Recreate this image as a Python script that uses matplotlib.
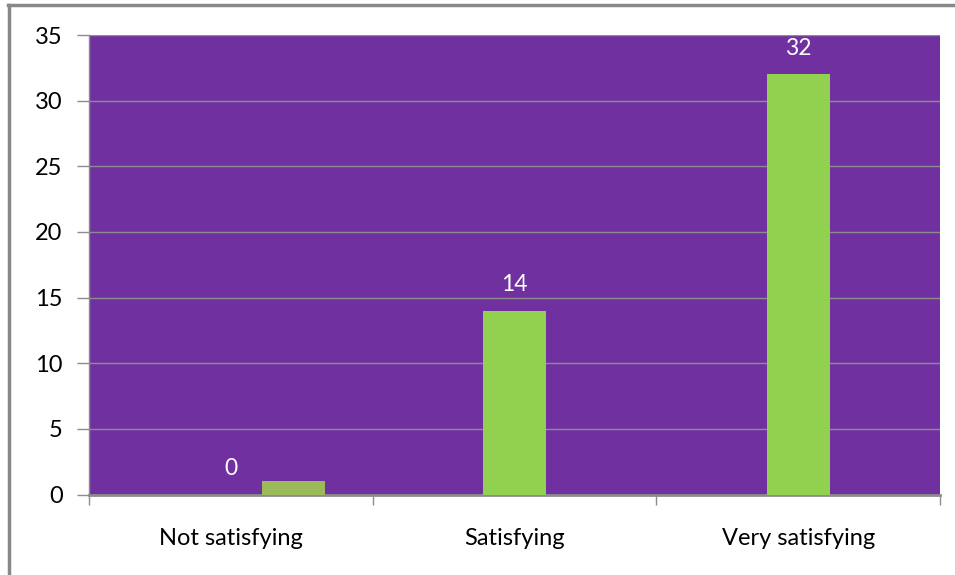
import matplotlib
matplotlib.use("Agg")
import matplotlib.pyplot as plt
from matplotlib.lines import Line2D

categories = ["Not satisfying", "Satisfying", "Very satisfying"]
values = [0, 14, 32]
extra_values = [1, 0, 0]
yticks = [0, 5, 10, 15, 20, 25, 30, 35]

plt.rcParams['font.family'] = ['Lato', 'DejaVu Sans']

fig = plt.figure(figsize=(9.55, 5.75), dpi=100)
ax = fig.add_axes([89/955, 1 - 494.5/575, (940 - 89)/955, (494.5 - 35)/575])
ax.set_facecolor("#7030A0")

bw = 0.222
xs = list(range(len(categories)))
ax.bar(xs, values, width=bw, color="#92D050", zorder=3)
ax.bar([x + bw for x, v in zip(xs, extra_values) if v],
       [v for v in extra_values if v], width=bw, color="#9BBB59", zorder=3)

for x, v in zip(xs, values):
    ax.annotate(str(v), (x, v), xytext=(0, 11), textcoords="offset points",
                ha="center", va="bottom", color="white", fontsize=16.5)

ax.set_xlim(-0.5, 2.5)
ax.set_ylim(0, 35)
ax.set_yticks(yticks)
ax.set_yticklabels([str(t) for t in yticks], fontsize=17, color="black")
ax.yaxis.grid(True, color="#8C8C8C", linewidth=1, zorder=1)
ax.set_axisbelow(True)

ax.set_xticks([x for x in xs])
ax.set_xticklabels(categories, fontsize=17, color="black")
ax.tick_params(axis="x", length=0, pad=24)
ax.set_xticks([-0.5, 0.5, 1.5, 2.5], minor=True)
ax.tick_params(axis="x", which="minor", length=7, color="#8C8C8C", width=1)
ax.tick_params(axis="y", length=9, color="#8C8C8C", width=1, pad=10)

for s in ["top", "right"]:
    ax.spines[s].set_visible(False)
ax.spines["bottom"].set_color("#8C8C8C")
ax.spines["bottom"].set_linewidth(2)
ax.spines["left"].set_color("#8C8C8C")
ax.spines["left"].set_linewidth(1)

# outer chart frame (left and top edges visible)
fig.add_artist(Line2D([9/955, 9/955], [1 - 574/575, 1 - 5/575], color="#888888",
                      linewidth=2.5, transform=fig.transFigure))
fig.add_artist(Line2D([8/955, 1.0], [1 - 5/575, 1 - 5/575], color="#888888",
                      linewidth=2.5, transform=fig.transFigure))

fig.savefig("out.png", dpi=100)
